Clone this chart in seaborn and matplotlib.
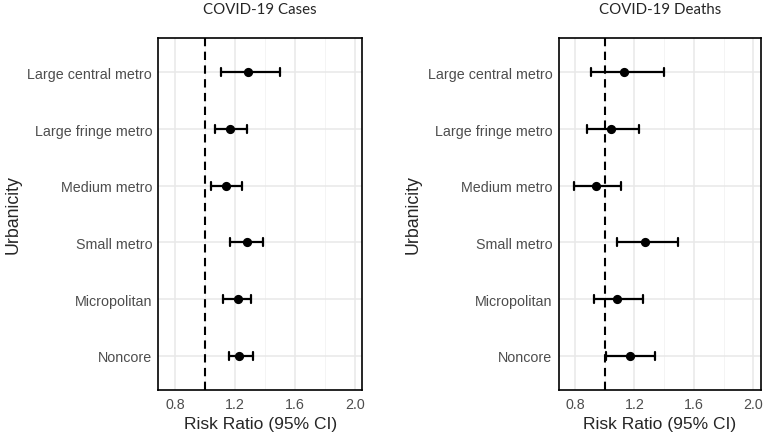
import matplotlib
matplotlib.use("Agg")
from matplotlib import pyplot as plt
import seaborn as sns
import pandas as pd

categories = ["Large central metro", "Large fringe metro", "Medium metro",
              "Small metro", "Micropolitan", "Noncore"]

cases_rr = [1.29, 1.17, 1.14, 1.28, 1.22, 1.23]
cases_lo = [1.11, 1.07, 1.04, 1.17, 1.12, 1.16]
cases_hi = [1.50, 1.28, 1.25, 1.39, 1.31, 1.32]

deaths_rr = [1.13, 1.04, 0.94, 1.27, 1.08, 1.17]
deaths_lo = [0.91, 0.88, 0.79, 1.08, 0.93, 1.01]
deaths_hi = [1.40, 1.23, 1.11, 1.49, 1.26, 1.34]

x_ticks = [0.8, 1.2, 1.6, 2.0]
x_minor = [1.0, 1.4, 1.8]


def to_long(lo, rr, hi):
    # three rows per group: median = point estimate, min/max = CI
    rows = []
    for c, a, b, d in zip(categories, lo, rr, hi):
        for v in (a, b, d):
            rows.append({"Urbanicity": c, "RR": v})
    return pd.DataFrame(rows)


sns.set_style("white")
plt.rcParams["font.family"] = ["Liberation Sans", "DejaVu Sans"]

fig = plt.figure(figsize=(7.69, 4.35), dpi=100)
ax1 = fig.add_axes([0.206, 0.1018, 0.265, 0.8078])
ax2 = fig.add_axes([0.7265, 0.1018, 0.2627, 0.8078])

panels = [(ax1, "COVID-19 Cases", cases_lo, cases_rr, cases_hi),
          (ax2, "COVID-19 Deaths", deaths_lo, deaths_rr, deaths_hi)]

for ax, title, lo, rr, hi in panels:
    df = to_long(lo, rr, hi)
    for v in x_ticks:
        ax.axvline(v, color="#E8E8E8", lw=1.1, zorder=0)
    for v in x_minor:
        ax.axvline(v, color="#F2F2F2", lw=0.6, zorder=0)
    for i in range(len(categories)):
        ax.axhline(i, color="#E8E8E8", lw=1.1, zorder=0)
    ax.axvline(1.0, color="black", lw=1.5, ls=(0, (4, 2.6)), zorder=1)
    sns.pointplot(data=df, x="RR", y="Urbanicity", order=categories,
                  estimator="median", errorbar=("pi", 100),
                  linestyle="none", color="black", capsize=0.14,
                  markersize=4.6, err_kws={"linewidth": 1.6}, ax=ax, zorder=3)
    ax.set_xlim(0.69, 2.05)
    ax.set_ylim(len(categories) - 0.4, -0.6)
    ax.set_xticks(x_ticks)
    ax.set_xticklabels([f"{v:.1f}" for v in x_ticks])
    ax.tick_params(axis="both", colors="#333333", labelcolor="#4D4D4D",
                   labelsize=10.3, length=3, width=0.8)
    ax.tick_params(axis="x", pad=2.5)
    ax.tick_params(axis="y", pad=1.5)
    for s in ax.spines.values():
        s.set_color("black")
        s.set_linewidth(1.2)
    ax.set_xlabel("Risk Ratio (95% CI)", fontsize=12.5, labelpad=3)
    ax.set_ylabel("Urbanicity", fontsize=12.8, labelpad=4)
    ax.set_title(title, fontsize=10.8, family=["Lato", "DejaVu Sans"], pad=18)

fig.savefig("out.png", dpi=100)
